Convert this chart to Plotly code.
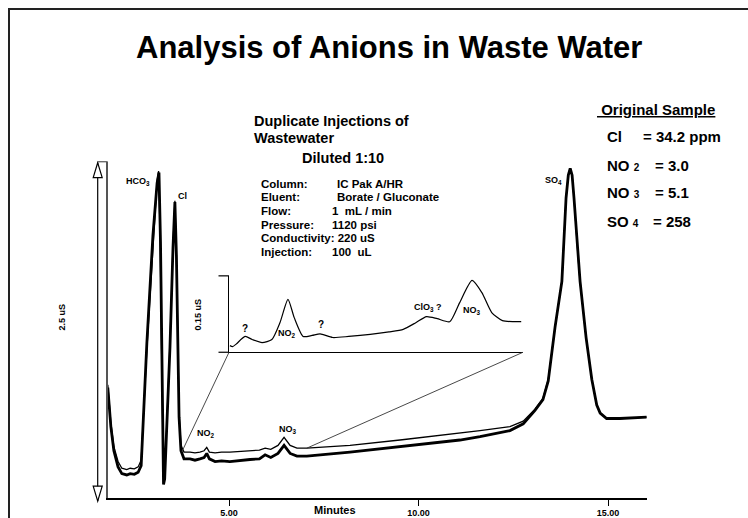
import plotly.graph_objects as go

W, H = 748, 518

# ---- data (minutes, uS) ----
sample1_time = [1.80, 1.88, 1.96, 2.07, 2.17, 2.30, 2.39, 2.50, 2.60, 2.68, 2.83, 2.99, 3.10, 3.15, 3.19, 3.22, 3.24,
                3.27, 3.30, 3.34, 3.44, 3.52, 3.57, 3.61, 3.63, 3.68, 3.73, 3.81, 3.97, 4.10, 4.23, 4.34, 4.41, 4.48,
                4.63, 4.80, 5.02, 5.30, 5.55, 5.80, 5.95, 6.10, 6.29, 6.45, 6.61, 6.79, 7.05, 8.19, 9.51, 11.09,
                11.62, 12.41, 12.76, 13.07, 13.28, 13.42, 13.60, 13.78, 13.89, 13.95, 14.00, 14.05, 14.10, 14.21,
                14.26, 14.42, 14.57, 14.70, 14.79, 14.96, 15.31, 16.02]
sample1_uS = [0.82, 0.53, 0.35, 0.23, 0.18, 0.17, 0.18, 0.175, 0.19, 0.24, 1.15, 1.95, 2.34, 2.42, 1.90, 1.20, 0.40,
              0.10, 0.14, 0.40, 1.12, 1.86, 2.20, 1.80, 1.49, 0.60, 0.35, 0.29, 0.29, 0.28, 0.29, 0.30, 0.33, 0.29,
              0.27, 0.275, 0.27, 0.275, 0.285, 0.29, 0.32, 0.30, 0.33, 0.39, 0.33, 0.31, 0.31, 0.34, 0.38, 0.43,
              0.455, 0.50, 0.55, 0.65, 0.73, 0.87, 1.27, 1.61, 2.23, 2.40, 2.45, 2.40, 2.23, 1.78,
              1.61, 1.19, 0.88, 0.69, 0.63, 0.59, 0.59, 0.60]

sample2_time = [1.80, 1.88, 1.96, 2.07, 2.17, 2.30, 2.39, 2.50, 2.60, 2.68, 2.83, 2.99, 3.10, 3.14, 3.18, 3.21, 3.24,
                3.27, 3.30, 3.34, 3.44, 3.52, 3.57, 3.61, 3.63, 3.68, 3.73, 3.81, 3.97, 4.10, 4.23, 4.34, 4.41, 4.48,
                4.63, 4.80, 5.02, 5.30, 5.55, 5.80, 5.95, 6.10, 6.29, 6.45, 6.61, 6.79, 7.05, 8.19, 9.51, 11.09,
                11.62, 12.41, 12.76, 13.07, 13.28, 13.42, 13.60, 13.78, 13.89, 13.95, 14.00, 14.05, 14.10, 14.21,
                14.26, 14.42, 14.57, 14.70, 14.79, 14.96, 15.31, 16.02]
sample2_uS = [0.84, 0.56, 0.38, 0.27, 0.22, 0.21, 0.22, 0.215, 0.23, 0.28, 1.10, 1.90, 2.36, 2.43, 1.95, 1.25, 0.45,
              0.11, 0.15, 0.42, 1.15, 1.88, 2.21, 1.80, 1.50, 0.64, 0.39, 0.34, 0.34, 0.335, 0.34, 0.35, 0.375, 0.34,
              0.335, 0.34, 0.34, 0.345, 0.35, 0.355, 0.37, 0.36, 0.39, 0.45, 0.39, 0.37, 0.37, 0.39, 0.43, 0.48,
              0.50, 0.53, 0.57, 0.66, 0.74, 0.88, 1.27, 1.61, 2.23, 2.40, 2.45, 2.40, 2.23, 1.78,
              1.61, 1.19, 0.88, 0.69, 0.63, 0.59, 0.59, 0.60]

inset_time = [3.77, 3.80, 3.84, 3.94, 4.02, 4.13, 4.24, 4.33, 4.42, 4.49, 4.59, 4.69, 4.78, 4.92, 5.10, 5.34, 5.55,
              5.71, 5.85, 5.97, 6.09, 6.23, 6.34, 6.48, 6.59, 6.70, 6.82, 7.03]
inset_uS = [0.013, 0.011, 0.016, 0.031, 0.025, 0.019, 0.025, 0.058, 0.104, 0.068, 0.031, 0.033, 0.036, 0.029, 0.031,
            0.035, 0.040, 0.045, 0.058, 0.070, 0.066, 0.060, 0.097, 0.141, 0.117, 0.078, 0.062, 0.060]

tick_values = [5, 10, 15]
tick_labels = ["5.00", "10.00", "15.00"]

summary_ions = ["Cl", "NO <span style='font-size:10px'>2</span>", "NO <span style='font-size:10px'>3</span>",
                "SO <span style='font-size:10px'>4</span>"]
summary_values = ["= 34.2 ppm", "= 3.0", "= 5.1", "= 258"]

param_names = ["Column:", "Eluent:", "Flow:", "Pressure:", "Conductivity: 220 uS", "Injection:"]
param_values = ["IC Pak A/HR", "Borate / Gluconate", "1  mL / min", "1120 psi", "", "100  uL"]

FONT = "Arial, 'Liberation Sans', sans-serif"


def P(px, py):
    return px / W, 1 - py / H


# main axes placement (pixels)
AX_L, AX_R, AX_T, AX_B = 107.7, 646.7, 163.0, 501.7
IN_L, IN_R, IN_T, IN_B = 229.0, 523.0, 278.0, 355.0

fig = go.Figure()
fig.add_trace(go.Scatter(x=sample2_time, y=sample2_uS, mode="lines",
                         line=dict(color="black", width=1.3), hoverinfo="skip"))
fig.add_trace(go.Scatter(x=sample1_time, y=sample1_uS, mode="lines",
                         line=dict(color="black", width=2.8), hoverinfo="skip"))
fig.add_trace(go.Scatter(x=inset_time, y=inset_uS, mode="lines", xaxis="x2", yaxis="y2",
                         line=dict(color="black", width=1.2, shape="spline", smoothing=0.6), hoverinfo="skip"))

fig.update_layout(
    width=W, height=H, margin=dict(l=0, r=0, t=0, b=0),
    paper_bgcolor="white", plot_bgcolor="rgba(0,0,0,0)", showlegend=False,
    font=dict(family=FONT, color="black"),
    xaxis=dict(domain=[AX_L / W, AX_R / W], range=[1.797, 16.018], showgrid=False, zeroline=False,
               showline=True, linecolor="black", linewidth=1.5, ticks="outside", ticklen=6, tickwidth=1,
               tickcolor="black", tickvals=tick_values, ticktext=tick_labels,
               tickfont=dict(size=9, family=FONT, weight="bold"), fixedrange=True),
    yaxis=dict(domain=[1 - AX_B / H, 1 - AX_T / H], range=[0, 2.4996], showgrid=False, zeroline=False,
               showline=True, linecolor="#555555", linewidth=1.5, showticklabels=False, ticks="", fixedrange=True),
    xaxis2=dict(domain=[IN_L / W, IN_R / W], range=[3.76, 7.05], anchor="y2", showgrid=False, zeroline=False,
                showline=True, linecolor="black", linewidth=1.2, showticklabels=False, ticks=""),
    yaxis2=dict(domain=[1 - IN_B / H, 1 - IN_T / H], range=[0, 0.15], anchor="x2", showgrid=False,
                zeroline=False, showline=True, linecolor="black", linewidth=1.2, showticklabels=False, ticks=""),
)

shapes = []


def line(x0, y0, x1, y1, color="black", width=1.2, dash="solid"):
    a, b = P(x0, y0)
    c, d = P(x1, y1)
    shapes.append(dict(type="line", xref="paper", yref="paper", x0=a, y0=b, x1=c, y1=d,
                       line=dict(color=color, width=width, dash=dash)))


def tri(tip, base_y, xc):
    pts = [P(xc, tip), P(xc - 4.5, base_y), P(xc + 4.5, base_y)]
    path = "M {} {} L {} {} L {} {} Z".format(pts[0][0], pts[0][1], pts[1][0], pts[1][1], pts[2][0], pts[2][1])
    shapes.append(dict(type="path", xref="paper", yref="paper", path=path, fillcolor="white",
                       line=dict(color="black", width=1.2)))


# frame
fx0, fy0 = P(9, 9)
fx1, fy1 = P(800, 560)
shapes.append(dict(type="rect", xref="paper", yref="paper", x0=fx0, y0=fy0, x1=fx1, y1=fy1,
                   line=dict(color="#222222", width=2)))
# 2.5 uS scale bar
line(97.7, 164, 97.7, 505, width=1.2)
line(97.7, 163, AX_L, 163, color="#555555", width=1.2)
tri(164, 179, 97.7)
tri(505, 490, 97.7)
# inset bracket caps
line(218.5, IN_T, IN_L, IN_T, width=1.2)
line(218.5, IN_B, IN_L, IN_B, width=1.2)
# connectors
line(IN_L, IN_B, 182, 455, color="#333333", width=0.9)
line(IN_R, IN_B, 306.7, 451.7, color="#333333", width=0.9)
fig.update_layout(shapes=shapes)

ann = []


def text(s, px, py, size, xanchor="center", angle=0, bold=True):
    x, y = P(px, py)
    ann.append(dict(text=s, x=x, y=y, xref="paper", yref="paper", showarrow=False, xanchor=xanchor,
                    yanchor="middle", textangle=angle, borderpad=0,
                    font=dict(size=size, family=FONT, color="black", weight="bold" if bold else "normal")))


text("Analysis of Anions in Waste Water", 389, 48, 31)
text("Duplicate Injections of", 253, 122, 14.5, "left")
text("Wastewater", 253, 139.5, 14.5, "left")
text("Diluted 1:10", 301, 159, 14.5, "left")
for i, (n, v) in enumerate(zip(param_names, param_values)):
    yy = 185 + i * 13.8
    text(n, 259.5, yy, 11.5, "left")
    if v:
        text(v, 335.5 if i < 2 else 331, yy, 11.5, "left")

text("<u> Original Sample</u>", 596, 110, 15, "left")
rows_y = [138, 167, 194, 223]
val_x = [641.5, 654, 654, 651.5]
for s, v, yy, vx in zip(summary_ions, summary_values, rows_y, val_x):
    text(s, 605.5, yy, 15, "left")
    text(v, vx, yy, 15, "left")

text("HCO<sub>3</sub>", 138, 183, 9)
text("Cl", 182, 198, 9)
text("NO<sub>2</sub>", 206, 437, 9)
text("NO<sub>3</sub>", 288, 433, 9)
text("SO<sub>4</sub>", 553, 182, 9)
text("?", 245, 331, 10)
text("NO<sub>2</sub>", 287, 336, 9)
text("?", 321, 327, 10)
text("ClO<sub>3</sub> ?", 428, 310, 9)
text("NO<sub>3</sub>", 472, 313, 9)
text("2.5 uS", 62, 320, 9, angle=-90)
text("0.15 uS", 198, 317, 9, angle=-90)
text("Minutes", 335, 514, 11)
fig.update_layout(annotations=ann)

fig.write_html("out.html", config={"displayModeBar": False},
               post_script="document.body.style.margin='0px';document.body.style.overflow='hidden';")
